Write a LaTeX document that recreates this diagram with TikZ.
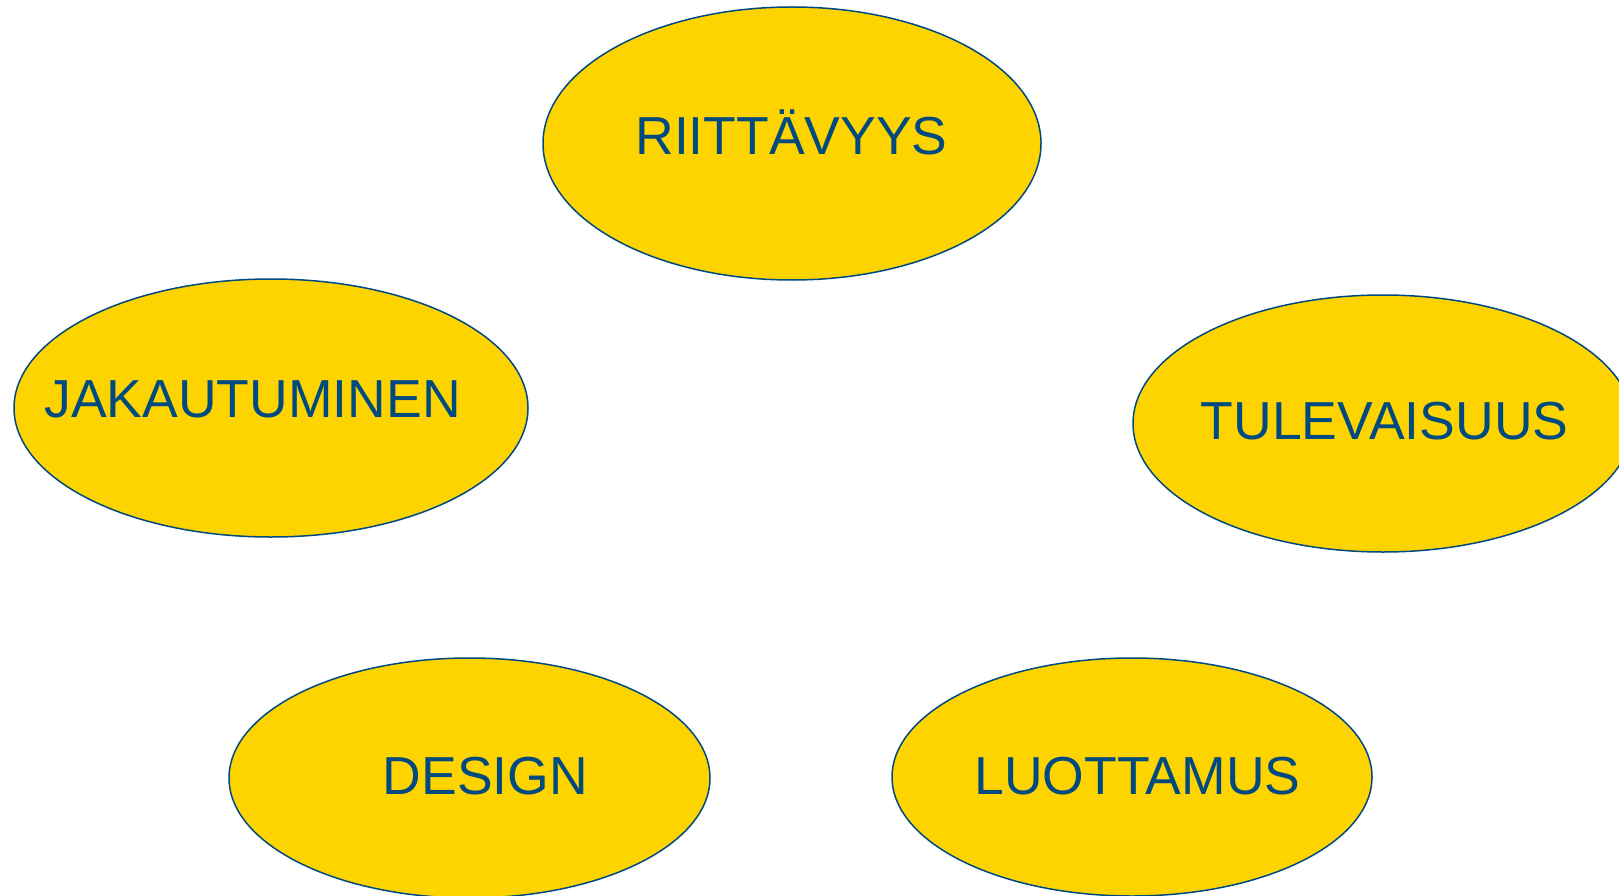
\documentclass[tikz,border=0pt]{standalone}
\usepackage{fontspec}
\setmainfont{Liberation Sans}
\usetikzlibrary{shapes.geometric}
\definecolor{bubble fill}{RGB}{254,212,0}
\definecolor{bubble edge}{RGB}{0,74,128}
\tikzset{
  bubble/.style={ellipse, fill=bubble fill, draw=bubble edge, line width=1.5pt, inner sep=0pt},
  word/.style={text=bubble edge, font=\fontsize{53.5}{60}\selectfont, inner sep=0pt, anchor=base}
  }

\begin{document}
\begin{tikzpicture}[x=1pt,y=-1pt]
  \useasboundingbox (0,0) rectangle (1619,896);

  % the five ellipses
  \foreach \pos/\w/\h/\name in {{(792,143.5)/498/273/riit}, {(271,408)/514/258/jak},
      {(1383,423.5)/500/257/tul}, {(469.5,778)/481/240/des}, {(1132,777)/480/238/luo}} {
    \node[bubble, minimum width=\w pt, minimum height=\h pt] (\name) at \pos {};
  }

  % words, on their baselines
  \foreach \pos/\name/\txt in {{(791.5,154.5)/riitw/RIITTÄVYYS}, {(252.6,417.5)/jakw/JAKAUTUMINEN},
      {(1384.5,439)/tulw/TULEVAISUUS}, {(485.5,794)/desw/DESIGN}, {(1137.5,794)/luow/LUOTTAMUS}} {
    \node[word] (\name) at \pos {\txt};
  }
\end{tikzpicture}
\end{document}
